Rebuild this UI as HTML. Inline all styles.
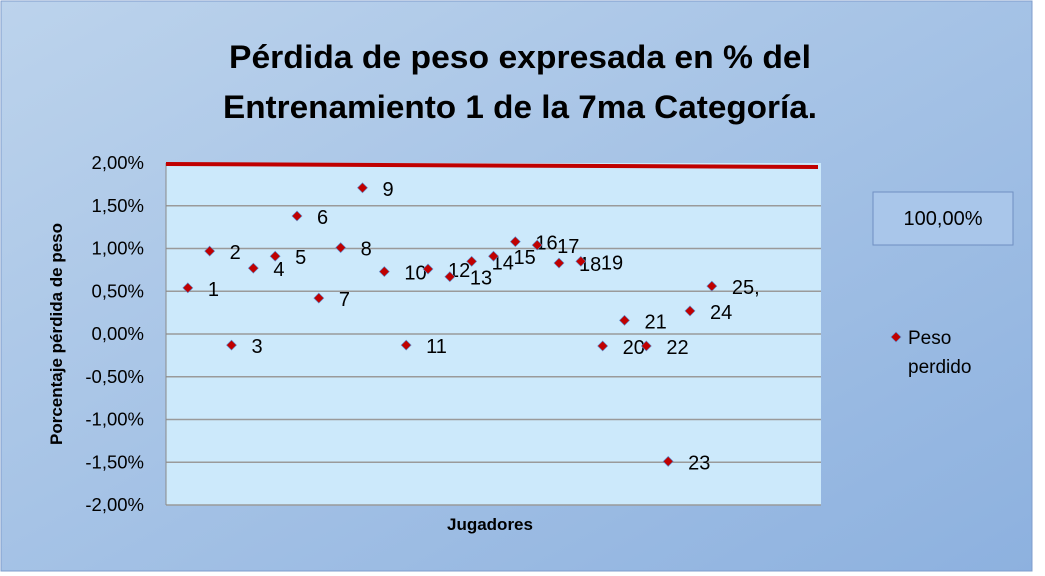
<!DOCTYPE html>
<html><head><meta charset="utf-8"><style>
html,body{margin:0;padding:0;width:1045px;height:576px;overflow:hidden;background:#fff}
svg{display:block;font-family:"Liberation Sans",sans-serif}
</style></head><body>
<svg id="chart" width="1045" height="576" viewBox="0 0 1045 576">
<defs>
<linearGradient id="bg" x1="0" y1="0" x2="1" y2="1">
<stop offset="0" stop-color="#bcd3ec"/><stop offset="1" stop-color="#8db1df"/>
</linearGradient>
</defs>
<rect x="1" y="1" width="1031" height="570" fill="url(#bg)" stroke="#7f9ccc"/>
<text x="520" y="68" text-anchor="middle" font-size="32" font-weight="bold" textLength="582" lengthAdjust="spacingAndGlyphs">Pérdida de peso expresada en % del</text>
<text x="520" y="118" text-anchor="middle" font-size="32" font-weight="bold" textLength="594" lengthAdjust="spacingAndGlyphs">Entrenamiento 1 de la 7ma Categoría.</text>
<rect x="166" y="163" width="655" height="342" fill="#cce9fb"/>
<g id="grid"></g>
<line x1="166" y1="163" x2="166" y2="505" stroke="#8a8a8a"/>
<line x1="166" y1="164" x2="818" y2="167" stroke="#c00000" stroke-width="4"/>
<g id="ticks"></g>
<g id="points"></g>
<text transform="translate(62,334) rotate(-90)" text-anchor="middle" font-size="17" font-weight="bold">Porcentaje pérdida de peso</text>
<text x="490" y="530" text-anchor="middle" font-size="17" font-weight="bold">Jugadores</text>
<rect x="873" y="192" width="140" height="53" fill="#a9c6ea" stroke="#6f8fc2"/>
<text x="943" y="225" text-anchor="middle" font-size="20">100,00%</text>
<path d="M896 332 l5 5 l-5 5 l-5 -5z" fill="#c00000" stroke="#5b8fd0" stroke-width="0.6"/>
<text x="908" y="344" font-size="19">Peso</text>
<text x="908" y="373" font-size="19">perdido</text>
</svg>
<script>
const players=["1","2","3","4","5","6","7","8","9","10","11","12","13","14","15","16","17","18","19","20","21","22","23","24","25,"];
const values=[0.54,0.97,-0.13,0.77,0.91,1.38,0.42,1.01,1.71,0.73,-0.13,0.76,0.67,0.85,0.91,1.08,1.04,0.83,0.85,-0.14,0.16,-0.14,-1.49,0.27,0.56];
const yTicks=[2,1.5,1,0.5,0,-0.5,-1,-1.5,-2];
const yTickLabels=["2,00%","1,50%","1,00%","0,50%","0,00%","-0,50%","-1,00%","-1,50%","-2,00%"];
const NS="http://www.w3.org/2000/svg";
const X0=166,X1=821,Y0=163,Y1=505,NCAT=30;
function xScale(i){return X0+(i+1)*(X1-X0)/NCAT;}
function yScale(v){return Y0+(2-v)/4*(Y1-Y0);}
const grid=document.getElementById('grid'),ticks=document.getElementById('ticks'),pts=document.getElementById('points');
yTicks.forEach((t,k)=>{
 const y=yScale(t);
 if(k>0){const l=document.createElementNS(NS,'line');
 l.setAttribute('x1',X0);l.setAttribute('x2',X1);l.setAttribute('y1',y);l.setAttribute('y2',y);
 l.setAttribute('stroke','#9a9a9a');l.setAttribute('stroke-width','1.5');
 
 
 grid.appendChild(l);}
 const tx=document.createElementNS(NS,'text');
 tx.setAttribute('x',144);tx.setAttribute('y',y+6);tx.setAttribute('text-anchor','end');tx.setAttribute('font-size','18.5');
 tx.textContent=yTickLabels[k];
 
 
 ticks.appendChild(tx);
});
values.forEach((v,i)=>{
 const x=xScale(i),y=yScale(v);
 const p=document.createElementNS(NS,'path');
 p.setAttribute('d',`M${x} ${y-5} l5 5 l-5 5 l-5 -5z`);
 p.setAttribute('fill','#c00000');p.setAttribute('stroke','#5b8fd0');p.setAttribute('stroke-width','0.6');
 
 
 pts.appendChild(p);
 const t=document.createElementNS(NS,'text');
 t.setAttribute('x',x+20);t.setAttribute('y',y+8);t.setAttribute('font-size','20');
 t.textContent=players[i];
 
 
 pts.appendChild(t);
});
</script>
</body></html>
